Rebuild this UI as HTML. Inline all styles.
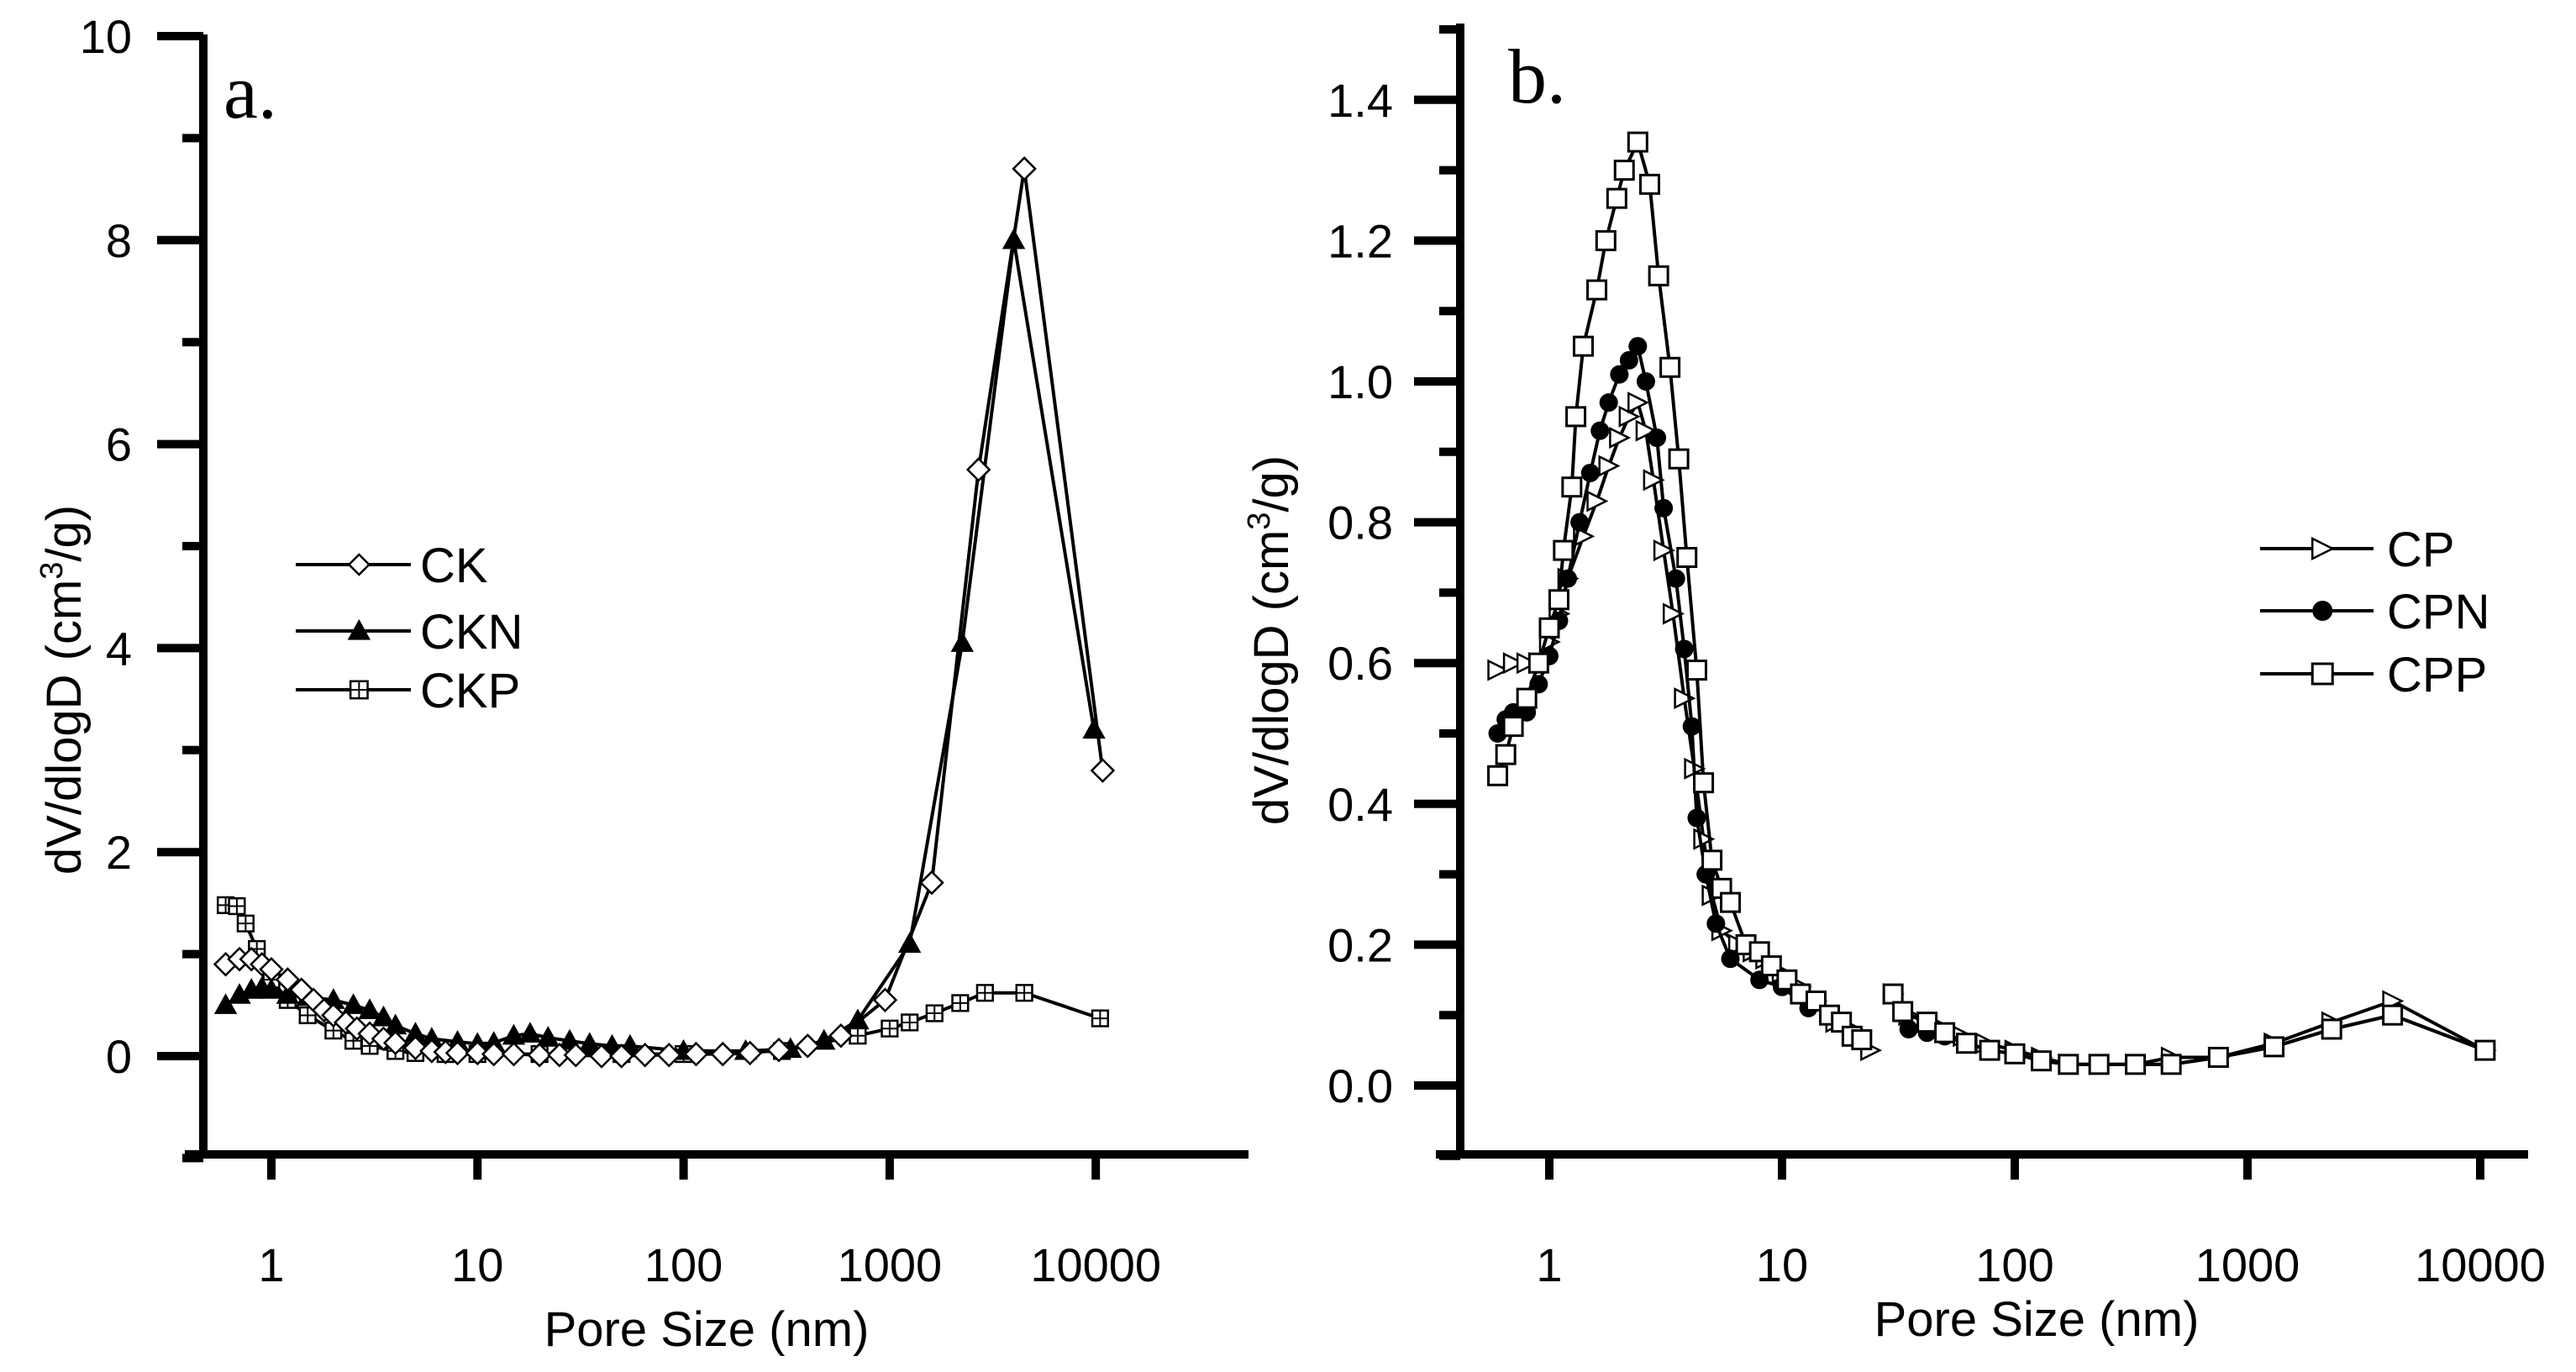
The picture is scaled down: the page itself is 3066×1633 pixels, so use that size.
<!DOCTYPE html>
<html><head><meta charset="utf-8">
<style>
html,body{margin:0;padding:0;background:#fff;}
svg{display:block;}
</style></head>
<body>
<svg id="chart" width="3066" height="1633" viewBox="0 0 3066 1633" xmlns="http://www.w3.org/2000/svg" font-family="Liberation Sans, Arial, sans-serif"></svg>
<script>
// ---- Panel a data ----
const ckX = [0.6,0.7,0.8,0.9,1,1.2,1.4,1.6,1.8,2,2.3,2.6,3,3.5,4,5,6,7,8,10,12,15,20,25,30,40,50,65,85,115,155,210,290,400,580,950,1600,2700,4500,10800];
const ckY = [0.9,0.95,0.95,0.9,0.85,0.75,0.65,0.55,0.45,0.4,0.33,0.27,0.22,0.17,0.13,0.08,0.05,0.04,0.03,0.03,0.02,0.02,0.01,0.01,0.01,0.0,0.0,0.01,0.01,0.02,0.02,0.03,0.06,0.1,0.2,0.55,1.7,5.75,8.7,2.8];
const cknX = [0.6,0.7,0.8,0.9,1,1.2,1.5,2,2.5,3,3.5,4,5,6,8,10,12,15,18,22,28,35,45,55,100,200,330,480,700,1250,2250,4000,9800];
const cknY = [0.5,0.6,0.65,0.67,0.65,0.6,0.58,0.55,0.5,0.45,0.38,0.3,0.22,0.17,0.14,0.12,0.13,0.2,0.22,0.18,0.15,0.12,0.1,0.1,0.05,0.05,0.07,0.15,0.35,1.1,4.05,8.0,3.2];
const ckpX = [0.6,0.68,0.75,0.85,1,1.2,1.5,2,2.5,3,4,5,7,10,20,50,100,300,700,1000,1250,1650,2200,2900,4500,10500];
const ckpY = [1.48,1.47,1.3,1.05,0.75,0.55,0.4,0.25,0.15,0.1,0.05,0.03,0.02,0.02,0.02,0.02,0.02,0.05,0.2,0.27,0.33,0.42,0.52,0.62,0.62,0.37];
const aYTicks = ["0","2","4","6","8","10"];
const xTickLabels = ["1","10","100","1000","10000"];
// ---- Panel b data ----
const cpX1 = [0.6,0.7,0.8,0.9,1,1.1,1.2,1.4,1.6,1.8,2,2.2,2.4,2.6,2.8,3.1,3.4,3.8,4.2,4.6,5,5.5,6.5,7.5,8.5,10,12,14,17,20,24];
const cpY1 = [0.59,0.6,0.6,0.6,0.63,0.67,0.72,0.78,0.83,0.88,0.92,0.95,0.97,0.93,0.86,0.76,0.67,0.55,0.45,0.35,0.27,0.22,0.2,0.19,0.18,0.16,0.14,0.12,0.09,0.08,0.05];
const cpX2 = [30,35,42,50,60,75,100,130,170,230,330,470,750,1300,2300,4200,10500];
const cpY2 = [0.13,0.1,0.09,0.08,0.07,0.06,0.05,0.04,0.03,0.03,0.03,0.04,0.04,0.06,0.09,0.12,0.05];
const cpnX1 = [0.6,0.65,0.7,0.8,0.9,1,1.1,1.2,1.35,1.5,1.65,1.8,2,2.2,2.4,2.6,2.9,3.1,3.5,3.8,4.1,4.3,4.7,5.2,6,8,10,13];
const cpnY1 = [0.5,0.52,0.53,0.53,0.57,0.61,0.66,0.72,0.8,0.87,0.93,0.97,1.01,1.03,1.05,1.0,0.92,0.82,0.72,0.62,0.51,0.38,0.3,0.23,0.18,0.15,0.14,0.11];
const cpnX2 = [35,42,50,62,78,100,130,170,230,330,470,750,1300,2300,4200,10500];
const cpnY2 = [0.08,0.075,0.07,0.06,0.05,0.045,0.035,0.03,0.03,0.03,0.03,0.04,0.055,0.08,0.1,0.05];
const cppX1 = [0.6,0.65,0.7,0.8,0.9,1,1.1,1.15,1.25,1.3,1.4,1.6,1.75,1.95,2.1,2.4,2.7,2.95,3.3,3.6,3.9,4.3,4.6,5,5.5,6,7,8,9,10.5,12,14,16,18,20,22];
const cppY1 = [0.44,0.47,0.51,0.55,0.6,0.65,0.69,0.76,0.85,0.95,1.05,1.13,1.2,1.26,1.3,1.34,1.28,1.15,1.02,0.89,0.75,0.59,0.43,0.32,0.28,0.26,0.2,0.19,0.17,0.15,0.13,0.12,0.1,0.09,0.07,0.065];
const cppX2 = [30,33,42,50,62,78,100,130,170,230,330,470,750,1300,2300,4200,10500];
const cppY2 = [0.13,0.105,0.09,0.075,0.06,0.05,0.045,0.035,0.03,0.03,0.03,0.03,0.04,0.055,0.08,0.1,0.05];
const bYTicks = ["0.0","0.2","0.4","0.6","0.8","1.0","1.2","1.4"];

const NS="http://www.w3.org/2000/svg";
const svg=document.getElementById('chart');
function el(tag,attrs,parent){const e=document.createElementNS(NS,tag);for(const k in attrs)e.setAttribute(k,attrs[k]);(parent||svg).appendChild(e);return e;}

function panel(cfg){
  const g=el('g',{});
  
  
  const sx=v=>cfg.x1+(Math.log10(v))*cfg.dec;
  const sy=v=>cfg.y0-v*cfg.ys;
  const ya=el('line',{x1:cfg.ax,y1:cfg.top,x2:cfg.ax,y2:cfg.bot+5,stroke:'#000','stroke-width':10},g);
  
  
  const xa=el('line',{x1:cfg.xl,y1:cfg.bot,x2:cfg.xr,y2:cfg.bot,stroke:'#000','stroke-width':10},g);
  
  
  for(let v=cfg.ymin;v<=cfg.ymax+1e-9;v+=cfg.minorStep){
    const major=Math.abs(Math.round(v/cfg.majorStep)*cfg.majorStep-v)<1e-6;
    const y=sy(v);
    el('line',{x1:cfg.ax-(major?55:25),y1:y,x2:cfg.ax,y2:y,stroke:'#000','stroke-width':10},g);
  }
  cfg.yLabels.forEach((lab)=>{
    const t=el('text',{x:cfg.ax-cfg.lblOff,y:sy(parseFloat(lab))+20,'text-anchor':'end','font-size':56},g);
    t.textContent=lab;
    
    
  });
  for(let d=0;d<5;d++){
    const x=sx(Math.pow(10,d));
    el('line',{x1:x,y1:cfg.bot,x2:x,y2:cfg.bot+30,stroke:'#000','stroke-width':10},g);
    const t=el('text',{x:x,y:1525,'text-anchor':'middle','font-size':56},g);
    t.textContent=xTickLabels[d];
    
    
  }
  const xt=el('text',{x:cfg.xtx,y:cfg.xty,'text-anchor':'middle','font-size':58},g);
  xt.textContent='Pore Size (nm)';
  
  
  const yt=el('text',{x:0,y:0,'text-anchor':'middle','font-size':58,transform:`translate(${cfg.ytx},${cfg.yty}) rotate(-90)`},g);
  yt.innerHTML='dV/dlogD (cm<tspan font-size="38" dy="-22">3</tspan><tspan dy="22">/g)</tspan>';
  
  
  const pl=el('text',{x:cfg.lx,y:cfg.ly,'font-size':92,'font-family':'Liberation Serif, serif'},g);
  pl.textContent=cfg.label;
  
  
  return {g,sx,sy};
}

function marker(g,type,x,y,s){
  if(type==='diamond') return el('polygon',{points:`${x},${y-s} ${x+s},${y} ${x},${y+s} ${x-s},${y}`,fill:'#fff',stroke:'#000','stroke-width':2.5},g);
  if(type==='tri') return el('polygon',{points:`${x},${y-s} ${x+s},${y+s*0.8} ${x-s},${y+s*0.8}`,fill:'#000',stroke:'#000','stroke-width':2},g);
  if(type==='sqplus'){const e=el('g',{},g);el('rect',{x:x-s*0.85,y:y-s*0.85,width:s*1.7,height:s*1.7,fill:'#fff',stroke:'#000','stroke-width':2.5},e);el('line',{x1:x-s*0.85,y1:y,x2:x+s*0.85,y2:y,stroke:'#000','stroke-width':2},e);el('line',{x1:x,y1:y-s*0.85,x2:x,y2:y+s*0.85,stroke:'#000','stroke-width':2},e);return e;}
  if(type==='rtri') return el('polygon',{points:`${x-s},${y-s} ${x+s},${y} ${x-s},${y+s}`,fill:'#fff',stroke:'#000','stroke-width':2.5},g);
  if(type==='circle') return el('circle',{cx:x,cy:y,r:s,fill:'#000'},g);
  if(type==='square') return el('rect',{x:x-s,y:y-s,width:2*s,height:2*s,fill:'#fff',stroke:'#000','stroke-width':3},g);
}

function series(p,name,xs,ys,type,s){
  const g=el('g',{},p.g);
  
  
  const pts=xs.map((v,i)=>p.sx(v).toFixed(1)+','+p.sy(ys[i]).toFixed(1)).join(' ');
  el('polyline',{points:pts,fill:'none',stroke:'#000','stroke-width':4},g);
  xs.forEach((v,i)=>{const m=marker(g,type,p.sx(v),p.sy(ys[i]),s);
    
    });
}

function legend(p,x1,x2,tx,entries){
  entries.forEach(([lab,type,y])=>{
    const g=el('g',{},p.g);
    
    
    el('line',{x1:x1,y1:y,x2:x2,y2:y,stroke:'#000','stroke-width':4},g);
    marker(g,type,(x1+x2)/2+(x2-x1)*0.05,y,12);
    const t=el('text',{x:tx,y:y+21,'font-size':58},g);
    t.textContent=lab;
  });
}

// Panel a
const pa=panel({name:'panel-a',x1:323,dec:245.3,y0:1257,ys:121.4,ax:242,top:41,bot:1374,xl:220,xr:1486,lblOff:85,
  ymin:-1,ymax:10,minorStep:1,majorStep:2,yLabels:aYTicks,xtx:841,xty:1602,ytx:96,yty:821,lx:266,ly:140,label:'a.'});
series(pa,'series-ckp',ckpX,ckpY,'sqplus',11);
series(pa,'series-ckn',cknX,cknY,'tri',12);
series(pa,'series-ck',ckX,ckY,'diamond',13);
legend(pa,352,489,500,[['CK','diamond',672],['CKN','tri',751],['CKP','sqplus',821]]);

// Panel b
const pb=panel({name:'panel-b',x1:1844,dec:277,y0:1292,ys:838,ax:1738,top:28,bot:1374,xl:1709,xr:3009,lblOff:80,
  ymin:-0.1,ymax:1.5,minorStep:0.1,majorStep:0.2,yLabels:bYTicks,xtx:2424,xty:1590,ytx:1533,yty:762,lx:1795,ly:122,label:'b.'});
series(pb,'series-cp-low',cpX1,cpY1,'rtri',11);
series(pb,'series-cp-high',cpX2,cpY2,'rtri',11);
series(pb,'series-cpn-low',cpnX1,cpnY1,'circle',11);
series(pb,'series-cpn-high',cpnX2,cpnY2,'circle',11);
series(pb,'series-cpp-low',cppX1,cppY1,'square',11);
series(pb,'series-cpp-high',cppX2,cppY2,'square',11);
legend(pb,2690,2825,2841,[['CP','rtri',653],['CPN','circle',727],['CPP','square',802]]);
</script>
</body></html>
